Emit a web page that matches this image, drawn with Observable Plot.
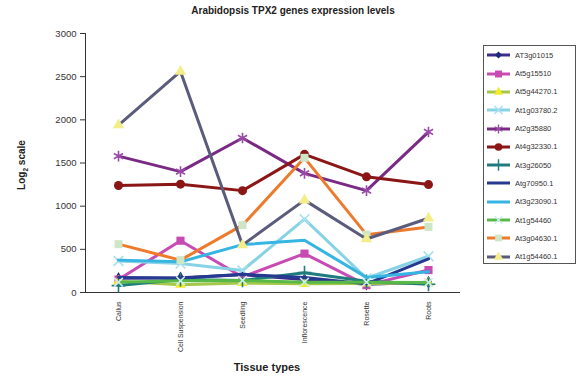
<!DOCTYPE html>
<html>
<head>
<meta charset="utf-8">
<script src="https://cdn.jsdelivr.net/npm/d3@7"></script>
<script src="https://cdn.jsdelivr.net/npm/@observablehq/plot@0.6"></script>
<style>
  body { margin: 0; background: #fff; }
  #wrap { position: relative; width: 586px; height: 381px; font-family: "Liberation Sans", Arial, sans-serif; color: #333; overflow: hidden; }
  #wrap svg.plot { position: absolute; left: 0; top: 0; }
  .title { position: absolute; left: 0; width: 586px; top: 5px; text-align: center; font-weight: bold; font-size: 10px; color: #222; }
  .ylab { position: absolute; left: 22px; top: 165px; transform: translate(-50%, -50%) rotate(-90deg); font-weight: bold; font-size: 10px; color: #222; white-space: nowrap; }
  .ylab sub { font-size: 6.5px; }
  .xlab { position: absolute; left: 267px; top: 367px; transform: translate(-50%, -50%); font-weight: bold; font-size: 11px; color: #222; white-space: nowrap; }
  .legend { position: absolute; left: 483px; top: 45px; width: 93px; height: 219px; border: 1px solid #555; box-sizing: border-box; }
  .legend .item { position: absolute; left: 0; height: 12px; display: flex; align-items: center; font-size: 7.5px; color: #333; white-space: nowrap; }
  .legend svg { display: block; }
</style>
</head>
<body>
<div id="wrap">
  <div class="title">Arabidopsis TPX2 genes expression levels</div>
  <div class="ylab">Log<sub>2</sub> scale</div>
  <div class="xlab">Tissue types</div>
  <div class="legend" id="legend"></div>
</div>
<script>
const tissues = ["Callus", "Cell Suspension", "Seedling", "Inflorescence", "Rosette", "Roots"];
const yTicks = [0, 500, 1000, 1500, 2000, 2500, 3000];
const genes = ["AT3g01015", "At5g15510", "At5g44270.1", "At1g03780.2", "At2g35880", "At4g32330.1",
               "At3g26050", "Atg70950.1", "At3g23090.1", "At1g54460", "At3g04630.1", "At1g54460.1"];

const AT3g01015   = [165, 170, 205, 150, 95, 120];
const At5g15510   = [150, 600, 180, 450, 85, 260];
const At5g44270_1 = [130, 90, 110, 100, 105, 110];
const At1g03780_2 = [365, 335, 255, 850, 165, 420];
const At2g35880   = [1580, 1400, 1790, 1380, 1180, 1860];
const At4g32330_1 = [1240, 1255, 1180, 1600, 1340, 1250];
const At3g26050   = [80, 150, 140, 230, 130, 95];
const Atg70950_1  = [175, 165, 210, 175, 100, 390];
const At3g23090_1 = [375, 355, 555, 605, 175, 240];
const At1g54460   = [120, 135, 140, 120, 120, 115];
const At3g04630_1 = [560, 375, 780, 1560, 670, 760];
const At1g54460_1 = [1940, 2560, 550, 1070, 620, 860];

const seriesValues = [AT3g01015, At5g15510, At5g44270_1, At1g03780_2, At2g35880, At4g32330_1,
                      At3g26050, Atg70950_1, At3g23090_1, At1g54460, At3g04630_1, At1g54460_1];

const lineColors = ["#3c2d8c", "#c84bb4", "#a6c84a", "#86d3e6", "#7a2a84", "#8a1616",
                    "#1e7c7c", "#24398f", "#36b4e2", "#58b848", "#ee7a2c", "#5b5b7c"];
const markerSymbols = ["diamond", "square", "triangle", "times", "asterisk", "circle",
                       "plus", null, null, "times", "square", "triangle"];
const markerColors = ["#1e2a78", "#c84bb4", "#f2ea2a", "#a8e0ee", "#9a4aa8", "#8a1616",
                      "#1e7c7c", null, null, "#cdeeee", "#cde6c6", "#f4ee8a"];
const markerR = [3.8, 4.6, 4, 4.5, 5, 4.5, 4.5, 0, 0, 4, 4.5, 4.2];
const strokeSymbols = new Set(["times", "asterisk", "plus"]);

const rows = genes.flatMap((g, i) => tissues.map((t, j) => ({gene: g, tissue: t, value: seriesValues[i][j]})));

const marks = [];
genes.forEach((g, i) => {
  const data = rows.filter(d => d.gene === g);
  marks.push(Plot.line(data, {x: "tissue", y: "value", stroke: lineColors[i], strokeWidth: 3, strokeLinejoin: "round"}));
  const sym = markerSymbols[i];
  if (sym) {
    const isStroke = strokeSymbols.has(sym);
    marks.push(Plot.dot(data, {
      x: "tissue", y: "value", symbol: () => sym, r: markerR[i],
      fill: isStroke ? "none" : markerColors[i],
      stroke: isStroke ? markerColors[i] : "none",
      strokeWidth: isStroke ? 1.6 : 0
    }));
  }
});

const chart = Plot.plot({
  width: 586,
  height: 381,
  marginLeft: 85,
  marginRight: 126,
  marginTop: 33,
  marginBottom: 89,
  style: {fontFamily: "Liberation Sans, Arial, sans-serif", fontSize: "9.5px", color: "#333", background: "transparent"},
  x: {type: "point", domain: tissues, padding: 0.5},
  y: {domain: [0, 3000]},
  symbol: {type: "identity"},
  marks: [
    Plot.axisY({ticks: yTicks, tickSize: 5, tickPadding: 4, label: null, tickFormat: d => String(d)}),
    Plot.axisX({tickSize: 0, tickRotate: -90, tickPadding: 9, fontSize: 7, label: null}),
    Plot.frame({anchor: "left", stroke: "#333"}),
    Plot.ruleY([0], {stroke: "#333"}),
    ...marks
  ]
});
chart.classList.add("plot");
document.getElementById("wrap").insertBefore(chart, document.getElementById("wrap").firstChild);

// Legend
const symbolTypes = {diamond: d3.symbolDiamond2, square: d3.symbolSquare, triangle: d3.symbolTriangle,
  times: d3.symbolTimes, asterisk: d3.symbolAsterisk, circle: d3.symbolCircle, plus: d3.symbolPlus};
const legend = d3.select("#legend");
genes.forEach((g, i) => {
  const item = legend.append("div").attr("class", "item").style("top", (3.3 + i * 18.3) + "px");
  const svg = item.append("svg").attr("width", 30).attr("height", 12);
  svg.append("line").attr("x1", 3).attr("x2", 26).attr("y1", 6).attr("y2", 6)
    .attr("stroke", lineColors[i]).attr("stroke-width", 3);
  const sym = markerSymbols[i];
  if (sym) {
    const isStroke = strokeSymbols.has(sym);
    const r = markerR[i] * 0.85;
    svg.append("path").attr("transform", "translate(14.5,6)")
      .attr("d", d3.symbol(symbolTypes[sym], Math.PI * r * r)())
      .attr("fill", isStroke ? "none" : markerColors[i])
      .attr("stroke", isStroke ? markerColors[i] : "none")
      .attr("stroke-width", isStroke ? 1.4 : 0);
  }
  item.append("span").text(g).style("margin-left", "1px");
});
</script>
</body>
</html>
